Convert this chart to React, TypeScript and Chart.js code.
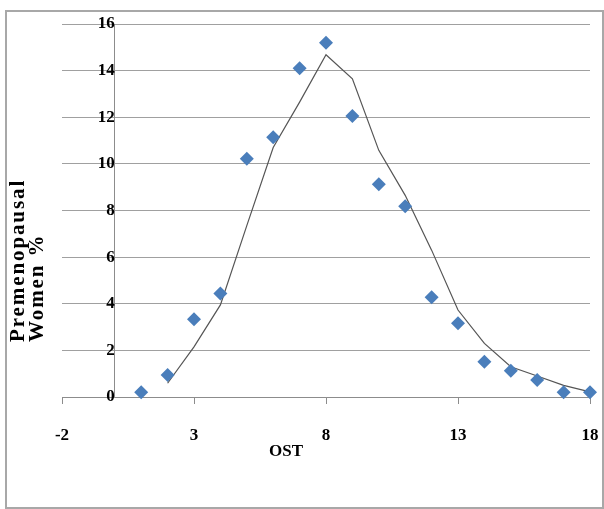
import React, { useEffect, useRef } from "react";
import { Chart, registerables } from "chart.js";

Chart.register(...registerables);

// ---- Data ----
const ostValues = [1, 2, 3, 4, 5, 6, 7, 8, 9, 10, 11, 12, 13, 14, 15, 16, 17, 18];
const premenopausalPct = [0.2, 0.94, 3.34, 4.44, 10.22, 11.14, 14.1, 15.2, 12.05, 9.13, 8.18, 4.28, 3.16, 1.51, 1.13, 0.73, 0.2, 0.2];
const trendOst = [2, 3, 4, 5, 6, 7, 8, 9, 10, 11, 12, 13, 14, 15, 16, 17, 18];
const trendPct = [0.59, 2.15, 3.95, 7.35, 10.7, 12.65, 14.68, 13.65, 10.58, 8.65, 6.3, 3.73, 2.3, 1.3, 0.9, 0.5, 0.22];
const xTickValues = [-2, 3, 8, 13, 18];
const yTickValues = [0, 2, 4, 6, 8, 10, 12, 14, 16];
const xTitle = "OST";
const yTitleLines = ["Premenopausal", "Women %"];

const SERIF = "'Liberation Serif', 'Times New Roman', serif";

const decorPlugin = {
  id: "decor",
  beforeDraw(chart: any) {
    const ctx = chart.ctx;
    ctx.save();
    ctx.fillStyle = "#ffffff";
    ctx.fillRect(0, 0, chart.width, chart.height);
    ctx.strokeStyle = "#a8a8a8";
    ctx.lineWidth = 2;
    ctx.strokeRect(6, 11, 597, 497);
    ctx.restore();
  },
  afterDraw(chart: any) {
    const ctx = chart.ctx;
    ctx.save();
    ctx.fillStyle = "#000000";
    // x title
    ctx.font = `bold 17px ${SERIF}`;
    ctx.textAlign = "center";
    ctx.textBaseline = "middle";
    ctx.fillText(xTitle, 286, 452);
    // y title (rotated, left aligned)
    ctx.translate(19, 342);
    ctx.rotate(-Math.PI / 2);
    ctx.font = `bold 21px ${SERIF}`;
    ctx.textAlign = "left";
    ctx.textBaseline = "middle";
    try { (ctx as any).letterSpacing = "1.9px"; } catch (e) {}
    yTitleLines.forEach((line, i) => ctx.fillText(line, 0, i * 19));
    ctx.restore();
  },
};

export default function App() {
  const canvasRef = useRef<HTMLCanvasElement | null>(null);

  useEffect(() => {
    if (!canvasRef.current) return;
    const chart = new Chart(canvasRef.current, {
      type: "scatter",
      data: {
        datasets: [
          {
            label: "Premenopausal Women %",
            data: ostValues.map((x, i) => ({ x, y: premenopausalPct[i] })),
            pointStyle: "rectRot",
            pointRadius: 7,
            pointHoverRadius: 7,
            backgroundColor: "#4a7ebb",
            borderColor: "#4a7ebb",
            borderWidth: 0,
            showLine: false,
            clip: false,
          } as any,
          {
            label: "Trend",
            data: trendOst.map((x, i) => ({ x, y: trendPct[i] })),
            showLine: true,
            borderColor: "#555555",
            borderWidth: 1.2,
            pointRadius: 0,
            fill: false,
            tension: 0,
            clip: false,
          } as any,
        ],
      },
      options: {
        responsive: false,
        animation: false,
        events: [],
        layout: { padding: { left: 62, right: 14, top: 24, bottom: 62 } },
        plugins: {
          legend: { display: false },
          tooltip: { enabled: false },
          title: { display: false },
        },
        scales: {
          x: {
            type: "linear",
            min: -2,
            max: 18,
            afterBuildTicks: (axis: any) => {
              axis.ticks = xTickValues.map((v) => ({ value: v }));
            },
            afterFit: (axis: any) => {
              axis.height = 50;
              axis.paddingLeft = 0;
              axis.paddingRight = 0;
            },
            grid: {
              drawOnChartArea: false,
              drawTicks: true,
              tickLength: 7,
              color: "#8c8c8c",
              lineWidth: 1,
            },
            border: { display: true, color: "#8c8c8c", width: 1 },
            ticks: {
              padding: 21,
              color: "#000000",
              font: { family: SERIF, size: 17, weight: "bold" },
              maxRotation: 0,
              autoSkip: false,
            },
          },
          y: {
            type: "linear",
            position: { x: 0 } as any,
            min: 0,
            max: 16,
            afterBuildTicks: (axis: any) => {
              axis.ticks = yTickValues.map((v) => ({ value: v }));
            },
            afterFit: (axis: any) => {
              axis.paddingTop = 0;
              axis.paddingBottom = 0;
            },
            grid: {
              drawOnChartArea: true,
              drawTicks: true,
              tickLength: 14,
              color: "#a0a0a0",
              lineWidth: 1,
            },
            border: { display: true, color: "#8c8c8c", width: 1 },
            ticks: {
              padding: 0,
              color: "#000000",
              font: { family: SERIF, size: 17, weight: "bold" },
            },
          },
        },
      },
      plugins: [decorPlugin],
    } as any);
    return () => chart.destroy();
  }, []);

  return (
    <div style={{ position: "absolute", left: 0, top: 0, width: 604, height: 509 }}>
      <canvas ref={canvasRef} width={604} height={509} style={{ display: "block" }} />
    </div>
  );
}
